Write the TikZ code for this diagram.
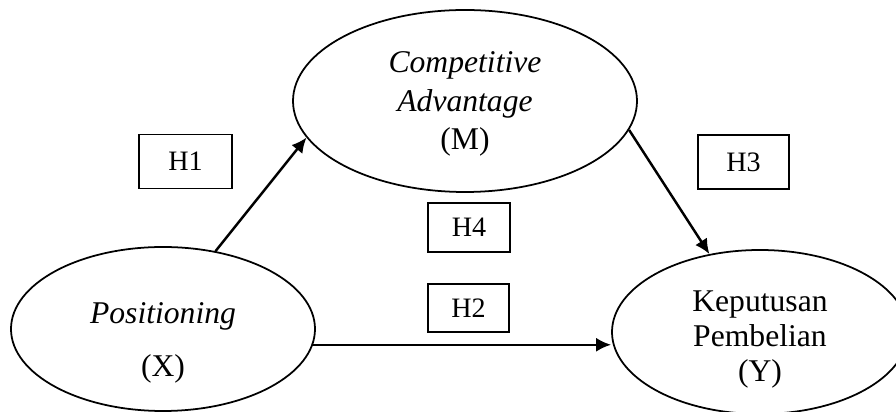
\documentclass[tikz,border=0pt]{standalone}
\usepackage{fontspec}
\setmainfont{Liberation Serif}
\usepackage{tikz}
\usetikzlibrary{arrows.meta}
\usetikzlibrary{shapes.geometric}

\begin{document}
\begin{tikzpicture}[
  varbl/.style={ellipse, draw, line width=1pt, inner sep=0pt},
  hbox/.style={rectangle, draw, line width=1pt, inner sep=0pt, font=\fontsize{16}{18}\selectfont},
  vtext/.style={align=center, inner sep=0pt},
  arr/.style={-{Latex[length=3mm,width=2.8mm]}, line width=1.4pt}
]
\coordinate (TopLeft) at (0,0);
\coordinate (BottomRight) at (17.92,-8.24);
\useasboundingbox (TopLeft) rectangle (BottomRight);

%%Variables
\node[varbl, minimum width=6.88cm, minimum height=3.64cm] (comp) at (9.30,-2.02) {};
\node[varbl, minimum width=6.08cm, minimum height=3.28cm] (posi) at (3.26,-6.58) {};
\node[varbl, minimum width=5.92cm, minimum height=3.28cm] (kepu) at (15.20,-6.64) {};

%%Texts inside
\node[vtext, font=\fontsize{18}{22}\selectfont] (comptext) at (9.30,-2.08) {\textit{Competitive}\\\textit{Advantage}\\(M)};
\node[vtext, font=\fontsize{18}{20}\selectfont] (positext) at (3.26,-6.86) {\textit{Positioning}\\[10pt](X)};
\node[vtext, font=\fontsize{18}{20}\selectfont] (keputext) at (15.20,-6.79) {Keputusan\\Pembelian\\(Y)};

%%Hypotheses
\node[hbox, minimum width=1.86cm, minimum height=1.08cm] (h1) at (3.71,-3.23) {H1};
\node[hbox, minimum width=1.82cm, minimum height=1.08cm] (h3) at (14.87,-3.24) {H3};
\node[hbox, minimum width=1.64cm, minimum height=0.98cm] (h4) at (9.38,-4.55) {H4};
\node[hbox, minimum width=1.62cm, minimum height=0.96cm] (h2) at (9.37,-6.16) {H2};

%%Paths
\draw[arr] (posi.56) -- (comp.193);
\draw[arr] (comp.-10) -- (kepu.123);
\draw[arr] (posi.-6) -- (posi.-6 -| kepu.west);

\end{tikzpicture}
\end{document}
